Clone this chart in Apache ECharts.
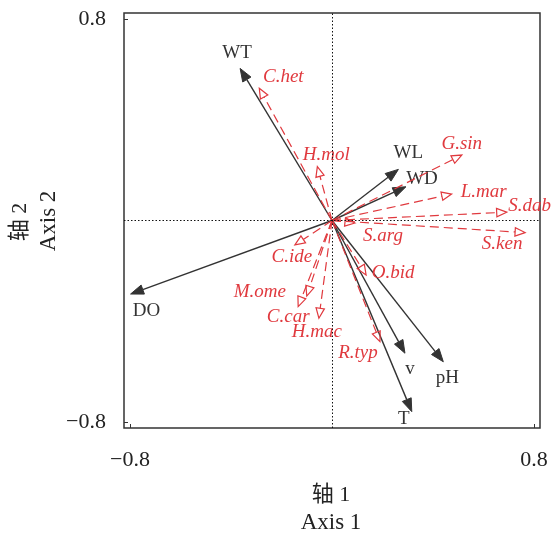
<!DOCTYPE html>
<html>
<head>
<meta charset="utf-8">
<script src="https://cdn.jsdelivr.net/npm/echarts@6/dist/echarts.min.js"></script>
<style>html,body{margin:0;padding:0;background:#fff;}#c{width:551px;height:536px;}</style>
</head>
<body>
<div id="c"></div>
<script>
// Environmental variables (black arrows)
const envNames = ['WT', 'WL', 'WD', 'DO', 'v', 'pH', 'T'];
const envX = [-0.364, 0.263, 0.293, -0.798, 0.289, 0.441, 0.316];
const envY = [0.604, 0.203, 0.134, -0.292, -0.527, -0.561, -0.759];
// Species (red dashed arrows)
const spNames = ['C.het', 'H.mol', 'G.sin', 'L.mar', 'S.dab', 'S.ken', 'S.arg', 'C.ide', 'M.ome', 'C.car', 'H.mac', 'O.bid', 'R.typ'];
const spX = [-0.288, -0.058, 0.514, 0.474, 0.692, 0.765, 0.091, -0.147, -0.100, -0.134, -0.052, 0.135, 0.190];
const spY = [0.525, 0.214, 0.260, 0.105, 0.033, -0.048, -0.010, -0.097, -0.300, -0.342, -0.388, -0.216, -0.481];
// Tick labels
const tickValues = [-0.8, 0.8];
const tickLabels = ['\u22120.8', '0.8'];

// Layout: label offsets (px) from arrow tips
const labelOffsets = {
  'WT': [-3, -15], 'WL': [10, -16], 'WD': [16, -8], 'DO': [16, 17], 'v': [5, 16], 'pH': [4, 16], 'T': [-8, 7],
  'C.het': [24, -11], 'H.mol': [9, -12], 'G.sin': [0, -11], 'L.mar': [32, -2], 'S.dab': [23, -6],
  'S.ken': [-23, 11], 'S.arg': [28, 13], 'C.ide': [-3, 12], 'M.ome': [-47, -4], 'C.car': [-10, 10],
  'H.mac': [-2, 14], 'O.bid': [27, -2], 'R.typ': [-22, 11]
};

const FONT = "'Liberation Serif', 'Times New Roman', serif";
const CJK = "'Liberation Serif', 'Noto Sans CJK SC', serif";
const BLACK = '#333333';
const RED = '#e0393e';

function makeRender(names, isSpecies) {
  return function (params, api) {
    const x = api.value(0), y = api.value(1);
    const s = api.coord([0, 0]);
    const e = api.coord([x, y]);
    const dx = e[0] - s[0], dy = e[1] - s[1];
    const len = Math.sqrt(dx * dx + dy * dy) || 1;
    const ux = dx / len, uy = dy / len;
    const hl = isSpecies ? 10 : 13;
    const hw = isSpecies ? 4.2 : 4.8;
    const bx = e[0] - ux * hl, by = e[1] - uy * hl;
    const px = -uy, py = ux;
    const name = names[params.dataIndex];
    const off = labelOffsets[name] || [0, 0];
    const color = isSpecies ? RED : BLACK;
    return {
      type: 'group',
      children: [
        {
          type: 'line',
          shape: { x1: s[0], y1: s[1], x2: bx, y2: by },
          style: { stroke: color, lineWidth: isSpecies ? 1.2 : 1.4, lineDash: isSpecies ? [9, 5] : null, fill: null }
        },
        {
          type: 'polygon',
          shape: { points: [[e[0], e[1]], [bx + px * hw, by + py * hw], [bx - px * hw, by - py * hw]] },
          style: isSpecies ? { fill: 'rgba(255,255,255,0)', stroke: color, lineWidth: 1.2 } : { fill: color, stroke: color, lineWidth: 1 }
        },
        {
          type: 'text',
          x: e[0] + off[0], y: e[1] + off[1],
          style: {
            text: name, fill: color, fontFamily: FONT, fontSize: 19,
            fontStyle: isSpecies ? 'italic' : 'normal',
            align: 'center', verticalAlign: 'middle'
          }
        }
      ]
    };
  };
}

const chart = echarts.init(document.getElementById('c'), null, { renderer: 'canvas' });
const axisCommon = {
  type: 'value', min: -0.824, max: 0.824,
  axisLine: { show: false, onZero: false },
  splitLine: { show: false },
  axisTick: { show: true, inside: true, length: 4, customValues: tickValues, lineStyle: { color: BLACK, width: 1 } },
  axisLabel: {
    customValues: tickValues,
    formatter: function (v) { const i = tickValues.indexOf(Math.round(v * 10) / 10); return i >= 0 ? tickLabels[i] : ''; },
    fontFamily: FONT, fontSize: 22, color: '#222'
  }
};
chart.setOption({
  animation: false,
  grid: { left: 124, right: 11, top: 13, bottom: 108, show: true, borderColor: BLACK, borderWidth: 1.5, backgroundColor: 'transparent' },
  xAxis: Object.assign({}, axisCommon, { axisLabel: Object.assign({}, axisCommon.axisLabel, { margin: 21 }) }),
  yAxis: Object.assign({}, axisCommon, { axisLabel: Object.assign({}, axisCommon.axisLabel, { margin: 18 }) }),
  graphic: [
    { type: 'text', x: 331, y: 495, style: { text: '轴 1', fontFamily: CJK, fontSize: 22, fill: '#222', align: 'center', verticalAlign: 'middle' } },
    { type: 'text', x: 331, y: 523, style: { text: 'Axis 1', fontFamily: FONT, fontSize: 23, fill: '#222', align: 'center', verticalAlign: 'middle' } },
    { type: 'text', x: 20, y: 222, rotation: Math.PI / 2, style: { text: '轴 2', fontFamily: CJK, fontSize: 22, fill: '#222', align: 'center', verticalAlign: 'middle' } },
    { type: 'text', x: 49, y: 221, rotation: Math.PI / 2, style: { text: 'Axis 2', fontFamily: FONT, fontSize: 23, fill: '#222', align: 'center', verticalAlign: 'middle' } }
  ],
  series: [
    {
      type: 'scatter', data: [[0, 0]], symbolSize: 0, silent: true,
      markLine: {
        silent: true, symbol: 'none', label: { show: false },
        lineStyle: { color: '#111', width: 1, type: [1.5, 2] },
        data: [{ xAxis: 0 }, { yAxis: 0 }]
      }
    },
    {
      type: 'custom', clip: false, silent: true,
      data: envNames.map((n, i) => [envX[i], envY[i]]),
      renderItem: makeRender(envNames, false), z: 3
    },
    {
      type: 'custom', clip: false, silent: true,
      data: spNames.map((n, i) => [spX[i], spY[i]]),
      renderItem: makeRender(spNames, true), z: 4
    }
  ]
});
</script>
</body>
</html>
